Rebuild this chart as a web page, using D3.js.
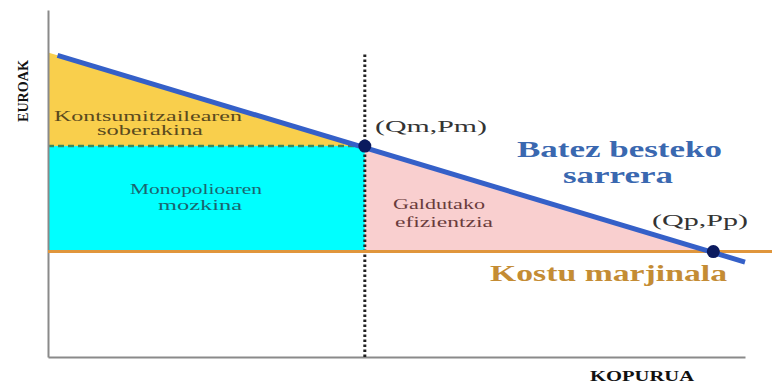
<!DOCTYPE html>
<meta charset="utf-8">
<style>
body { margin: 0; background: #fff; }
text { font-family: "Liberation Serif", "DejaVu Serif", serif; }
.lbl { font-size: 14px; }
.pt-lbl { font-size: 17px; }
.big { font-size: 23px; font-weight: bold; }
.axlbl { font-size: 14px; font-weight: bold; }
</style>
<svg width="772" height="385"></svg>
<script src="https://d3js.org/d3.v7.min.js"></script>
<script>

// demand (batez besteko sarrera) end points, quantity / price
var demandQ = [0.3, 22];
var demandP = [14.3, 4.5];
// marginal cost
var mcP = 5;
// monopoly and perfect competition points
var Qm = 10, Pm = 10;
var Qp = 21, Pp = 5;
// top of the dotted guide at Qm
var guideTop = 14.4;

var svg = d3.select("svg"),
    x = d3.scaleLinear().domain([0, 22]).range([48, 745]),
    y = d3.scaleLinear().domain([0, 16.45]).range([357, 10]);

var line = d3.line().x(function(d) { return x(d[0]); }).y(function(d) { return y(d[1]); });

// consumer surplus
svg.append("path")
    .attr("d", line([[0, demandP[0] + (demandP[0] - Pm) * demandQ[0] / (Qm - demandQ[0])], [Qm, Pm], [0, Pm]]) + "Z")
    .attr("fill", "#f9cf4c");
// monopoly profit
svg.append("rect")
    .attr("x", x(0)).attr("y", y(Pm))
    .attr("width", x(Qm) - x(0)).attr("height", y(mcP) - y(Pm))
    .attr("fill", "#00ffff");
// deadweight loss
svg.append("path")
    .attr("d", line([[Qm, Pm], [Qm, mcP], [Qp, Pp]]) + "Z")
    .attr("fill", "#f9cfcf");

// green dashed price line
svg.append("path")
    .attr("d", line([[0, Pm], [Qm, Pm]]))
    .attr("stroke", "#3d8a5c").attr("stroke-width", 2.5)
    .attr("stroke-dasharray", "6,4").attr("fill", "none");

// axes
svg.append("g").attr("transform", "translate(" + x(0) + ",0)")
    .call(d3.axisLeft(y).ticks(0).tickSizeOuter(0))
    .select(".domain").attr("stroke", "#8a8a8a").attr("stroke-width", 2);
svg.append("g").attr("transform", "translate(0," + y(0) + ")")
    .call(d3.axisBottom(x).ticks(0).tickSizeOuter(0))
    .select(".domain").attr("stroke", "#8a8a8a").attr("stroke-width", 2);

// dotted vertical at Qm
svg.append("path")
    .attr("d", line([[Qm, 0], [Qm, guideTop]]))
    .attr("stroke", "#222").attr("stroke-width", 3)
    .attr("stroke-dasharray", "2.5,2.5").attr("fill", "none");

// marginal cost
svg.append("line")
    .attr("x1", x(0)).attr("x2", 772)
    .attr("y1", y(mcP)).attr("y2", y(mcP))
    .attr("stroke", "#e0963c").attr("stroke-width", 3);

// demand
svg.append("path")
    .attr("d", line(demandQ.map(function(q, i) { return [q, demandP[i]]; })))
    .attr("stroke", "#3560c8").attr("stroke-width", 5).attr("fill", "none");

// points
svg.selectAll("circle.pt")
    .data([[Qm, Pm], [Qp, Pp]])
  .enter().append("circle")
    .attr("class", "pt")
    .attr("cx", function(d) { return x(d[0]); })
    .attr("cy", function(d) { return y(d[1]); })
    .attr("r", 6.5)
    .attr("fill", "#0b1a5e");

function label(t, px, py, cls, col, len) {
  return svg.append("text")
      .attr("x", px).attr("y", py)
      .attr("class", cls).attr("fill", col)
      .attr("textLength", len).attr("lengthAdjust", "spacingAndGlyphs")
      .text(t);
}

label("Kontsumitzailearen", 54, 121, "lbl", "#5a4a1e", 188);
label("soberakina", 97, 135, "lbl", "#5a4a1e", 106);
label("Monopolioaren", 130, 194, "lbl", "#1a6670", 132);
label("mozkina", 158, 210, "lbl", "#1a6670", 84);
label("Galdutako", 393, 209, "lbl", "#6a3c3c", 92);
label("efizientzia", 395, 227, "lbl", "#6a3c3c", 98);
label("(Qm,Pm)", 375, 132, "pt-lbl", "#333", 112);
label("(Qp,Pp)", 652, 226, "pt-lbl", "#333", 96);
label("Batez besteko", 517, 157, "big", "#3a68b0", 205);
label("sarrera", 563, 183, "big", "#3a68b0", 110);
label("Kostu marjinala", 490, 281, "big", "#c48c34", 237);
label("KOPURUA", 590, 381, "axlbl", "#111", 104);
label("EUROAK", -122, 28, "axlbl", "#111", 62)
    .attr("transform", "rotate(-90)");

</script>
